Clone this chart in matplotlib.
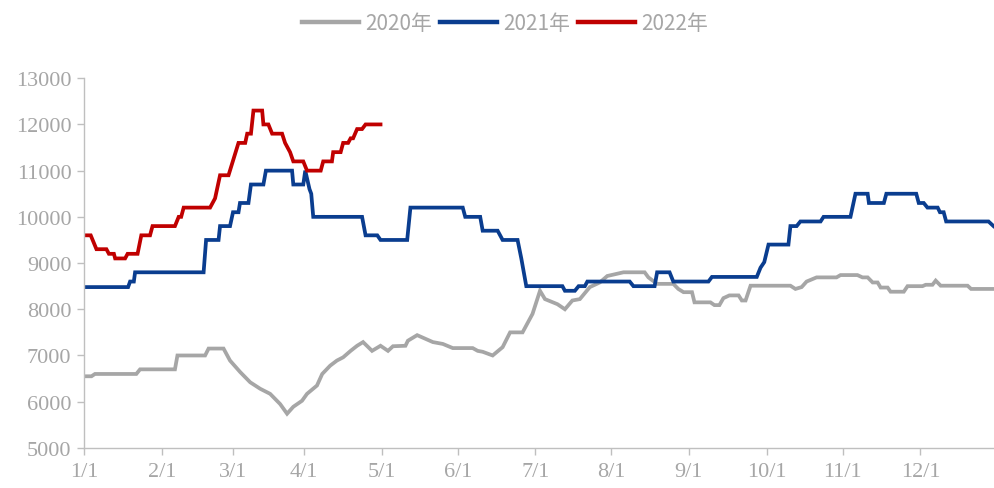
import matplotlib
matplotlib.use("Agg")
import matplotlib.pyplot as plt

# x = days since Jan 1, y = price
tick_days = [0, 31.4, 59.7, 88.1, 119.6, 150.0, 181.1, 211.5, 242.7, 274.2, 304.5, 335.7]
tick_labels = ["1/1", "2/1", "3/1", "4/1", "5/1", "6/1", "7/1", "8/1", "9/1", "10/1", "11/1", "12/1"]

days_2020 = [0.5, 3, 4.4, 21, 22.5, 36.5, 37.5, 48.6, 50, 56, 58.6, 62.7, 66.7, 70.7, 74.7, 78.7,
             81.5, 84, 87.5, 89.5, 93.5, 95.6, 98.8, 101.5, 104, 107, 109.6, 112, 115.6, 119,
             122, 124, 129, 130, 133.7, 140, 144, 148, 156, 158, 160, 164, 168, 171, 176, 180,
             183, 185, 190, 193, 196, 199, 203, 207, 210, 216.5, 225, 226.5, 230, 236.5, 238.5,
             240.6, 244, 245, 251.4, 253, 255, 256.6, 259, 262.7, 264, 265.5, 267.5, 283.5,
             285.5, 288, 290, 294, 302, 303.6, 310.4, 312.4, 314.5, 316.5, 318.5, 319.7, 322.5,
             323.7, 329, 330.5, 336.5, 337.8, 340.5, 341.8, 343.8, 354.6, 356, 365]
vals_2020 = [6550, 6550, 6600, 6600, 6700, 6700, 7000, 7000, 7150, 7150, 6890, 6640, 6420, 6280,
             6170, 5950, 5740, 5890, 6020, 6170, 6350, 6600, 6780, 6890, 6960, 7100, 7210, 7290,
             7100, 7210, 7100, 7200, 7210, 7320, 7440, 7290, 7250, 7160, 7160, 7100, 7080, 7000,
             7180, 7500, 7500, 7900, 8400, 8220, 8110, 8000, 8190, 8220, 8480, 8580, 8720, 8800,
             8800, 8690, 8550, 8550, 8440, 8370, 8370, 8150, 8150, 8090, 8090, 8240, 8300, 8300,
             8190, 8190, 8510, 8510, 8440, 8480, 8600, 8690, 8690, 8740, 8740, 8690, 8690, 8580,
             8580, 8470, 8470, 8380, 8380, 8500, 8500, 8530, 8530, 8620, 8510, 8510, 8440, 8440]

days_2021 = [0.5, 17.7, 18.5, 20, 20.5, 48, 49, 54, 54.6, 58.6, 59.8, 62, 62.6, 66, 67, 72, 73,
             83.5, 84, 88, 88.8, 90.5, 91.2, 92, 111.6, 113, 117.7, 119, 129.7, 131, 152, 153,
             159, 160, 166, 168, 174, 175.5, 177.5, 192, 193, 197, 198.5, 201, 202, 219, 220.5,
             229, 230, 235, 236.5, 250.6, 252, 270, 271.5, 273, 274.7, 282.7, 283.5, 286, 287.5,
             295.6, 296.8, 307.6, 309.6, 314.5, 315, 321, 322, 334, 335, 337, 338.5, 342.6, 343.5,
             345, 346, 363, 365]
vals_2021 = [8480, 8480, 8600, 8600, 8800, 8800, 9500, 9500, 9800, 9800, 10100, 10100, 10300,
             10300, 10700, 10700, 11000, 11000, 10700, 10700, 11000, 10600, 10500, 10000, 10000,
             9600, 9600, 9500, 9500, 10200, 10200, 10000, 10000, 9700, 9700, 9500, 9500, 9100,
             8500, 8500, 8400, 8400, 8500, 8500, 8600, 8600, 8500, 8500, 8800, 8800, 8600, 8600,
             8700, 8700, 8900, 9020, 9400, 9400, 9800, 9800, 9900, 9900, 10000, 10000, 10500,
             10500, 10300, 10300, 10500, 10500, 10300, 10300, 10200, 10200, 10100, 10100, 9900,
             9900, 9800]

days_2022 = [0.5, 2.7, 5, 9, 10, 12, 12.5, 16.5, 17.5, 21.5, 23, 26.5, 27.5, 36.5, 38, 39, 40,
             50.6, 52.6, 54.6, 58, 62, 64.7, 65.5, 67, 68, 71.5, 72, 74, 75.5, 79.5, 80.7, 82.7,
             84, 88, 89.5, 95, 96, 99.5, 100, 103, 104, 106, 107, 108, 109.6, 111.6, 113, 119]
vals_2022 = [9600, 9600, 9300, 9300, 9200, 9200, 9100, 9100, 9200, 9200, 9600, 9600, 9800, 9800,
             10000, 10000, 10200, 10200, 10400, 10900, 10900, 11600, 11600, 11800, 11800, 12300,
             12300, 12000, 12000, 11800, 11800, 11600, 11400, 11200, 11200, 11000, 11000, 11200,
             11200, 11400, 11400, 11600, 11600, 11700, 11700, 11900, 11900, 12000, 12000]

series = [("2020年", days_2020, vals_2020, "#A6A6A6"),
          ("2021年", days_2021, vals_2021, "#0A3D8F"),
          ("2022年", days_2022, vals_2022, "#C00000")]

fig = plt.figure(figsize=(9.94, 4.89), dpi=100)
ax = fig.add_axes([0.0845, 0.082, 0.915, 0.756])

for name, xs, ys, color in series:
    ax.plot(xs, ys, color=color, linewidth=2.7, label=name, solid_joinstyle="miter")

ax.set_xlim(0, 365)
ax.set_ylim(5000, 13000)
ax.set_yticks(range(5000, 13001, 1000))
ax.set_xticks(tick_days)
ax.set_xticklabels(tick_labels)

# axis styling
for side in ["top", "right"]:
    ax.spines[side].set_visible(False)
for side in ["left", "bottom"]:
    ax.spines[side].set_color("#BFBFBF")
    ax.spines[side].set_linewidth(1.0)
ax.tick_params(axis="both", colors="#BFBFBF", length=5, width=1.0, direction="out")
ax.tick_params(axis="y", pad=4)
ax.tick_params(axis="x", pad=5)
for lbl in ax.get_xticklabels() + ax.get_yticklabels():
    lbl.set_family("Liberation Serif")
    lbl.set_fontsize(16)
    lbl.set_color("#A6A6A6")

leg = fig.legend(loc="upper center", bbox_to_anchor=(0.508, 1.012), ncol=3, frameon=False,
                 handlelength=2.75, handletextpad=0.3, columnspacing=0.35,
                 prop={"family": ["Noto Sans CJK SC", "DejaVu Sans"], "size": 15})
for txt in leg.get_texts():
    txt.set_color("#A6A6A6")
for line in leg.get_lines():
    line.set_linewidth(3.2)

fig.savefig("out.png", dpi=100)
